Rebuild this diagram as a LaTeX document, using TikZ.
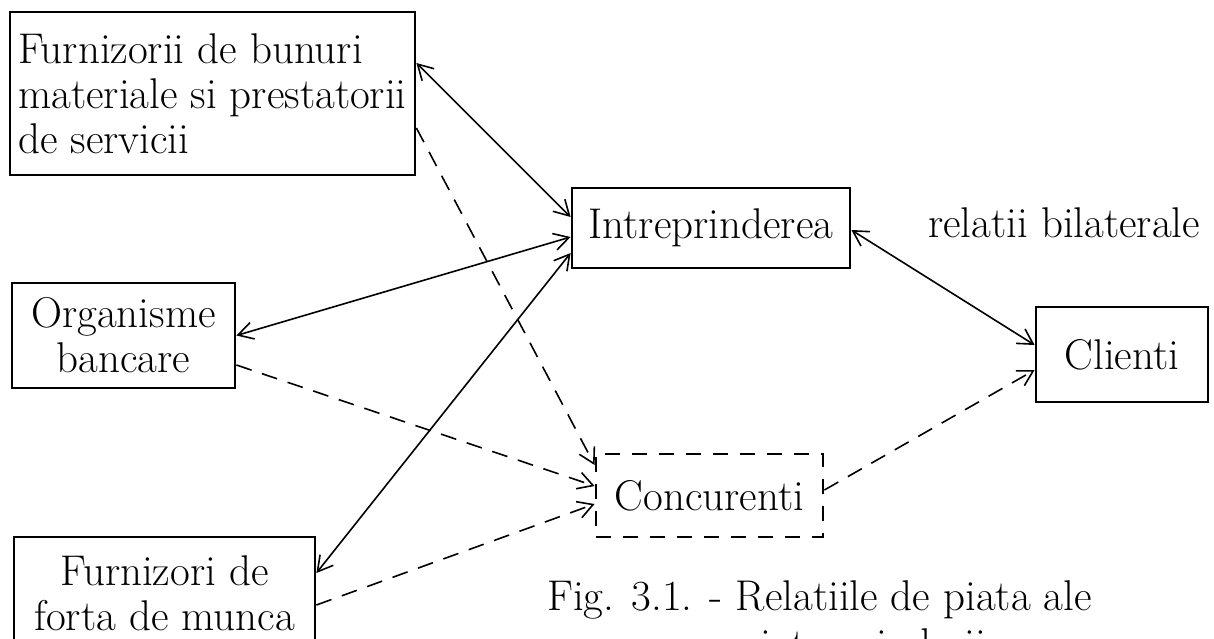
\documentclass[tikz,border=0pt]{standalone}
\usetikzlibrary{arrows.meta}
\begin{document}
\begin{tikzpicture}[x=1pt,y=-1pt,
  txt/.style={font=\fontsize{43}{45}\selectfont, inner sep=0pt},
  box/.style={txt, draw, line width=2.8pt, align=center},
  dbox/.style={box, dash pattern=on 15pt off 12pt},
  two/.style={line width=1.6pt, {Straight Barb[length=15pt,width=17pt]}-{Straight Barb[length=15pt,width=17pt]}},
  one/.style={line width=1.6pt, dash pattern=on 16pt off 11pt, -{Straight Barb[length=15pt,width=17pt]}}]
\useasboundingbox (0,0) rectangle (1214,638);
\node[box, minimum width=405pt, minimum height=163pt, align=left] (sup) at (212.5,93.5) {Furnizorii de bunuri\\materiale si prestatorii\\de servicii};
\node[box, minimum width=278pt, minimum height=80pt] (intr) at (711,228) {Intreprinderea};
\node[box, minimum width=223pt, minimum height=105pt] (org) at (123.5,335.5) {Organisme\\bancare};
\node[box, minimum width=301pt, minimum height=113pt] (forta) at (164.5,593.5) {Furnizori de\\forta de munca};
\node[box, minimum width=172pt, minimum height=95pt] (cli) at (1122,354.5) {Clienti};
\node[dbox, minimum width=227pt, minimum height=83pt] (conc) at (709.5,495.5) {Concurenti};
\node[txt, anchor=base west] (rel) at (928,237) {relatii bilaterale};
\node[txt, anchor=base west] (cap) at (547,610) {Fig. 3.1. - Relatiile de piata ale};
\node[txt, anchor=base west] (cap2) at (760,658) {intreprinderii};
\draw[two] ([yshift=30.5pt]sup.east) -- ([yshift=11pt]intr.west);
\draw[one] ([yshift=-34.5pt]sup.east) -- ([yshift=30.5pt]conc.west);
\draw[two] (org.east) -- ([yshift=-9pt]intr.west);
\draw[one] ([yshift=-29.5pt]org.east) -- ([yshift=9.5pt]conc.west);
\draw[two] ([yshift=20.5pt]forta.east) -- ([yshift=-25pt]intr.west);
\draw[one] ([yshift=-11.5pt]forta.east) -- ([yshift=-8.5pt]conc.west);
\draw[two] ([yshift=-2pt]intr.east) -- ([yshift=9.5pt]cli.west);
\draw[one] ([yshift=5.5pt]conc.east) -- ([yshift=-15.5pt]cli.west);
\end{tikzpicture}
\end{document}
